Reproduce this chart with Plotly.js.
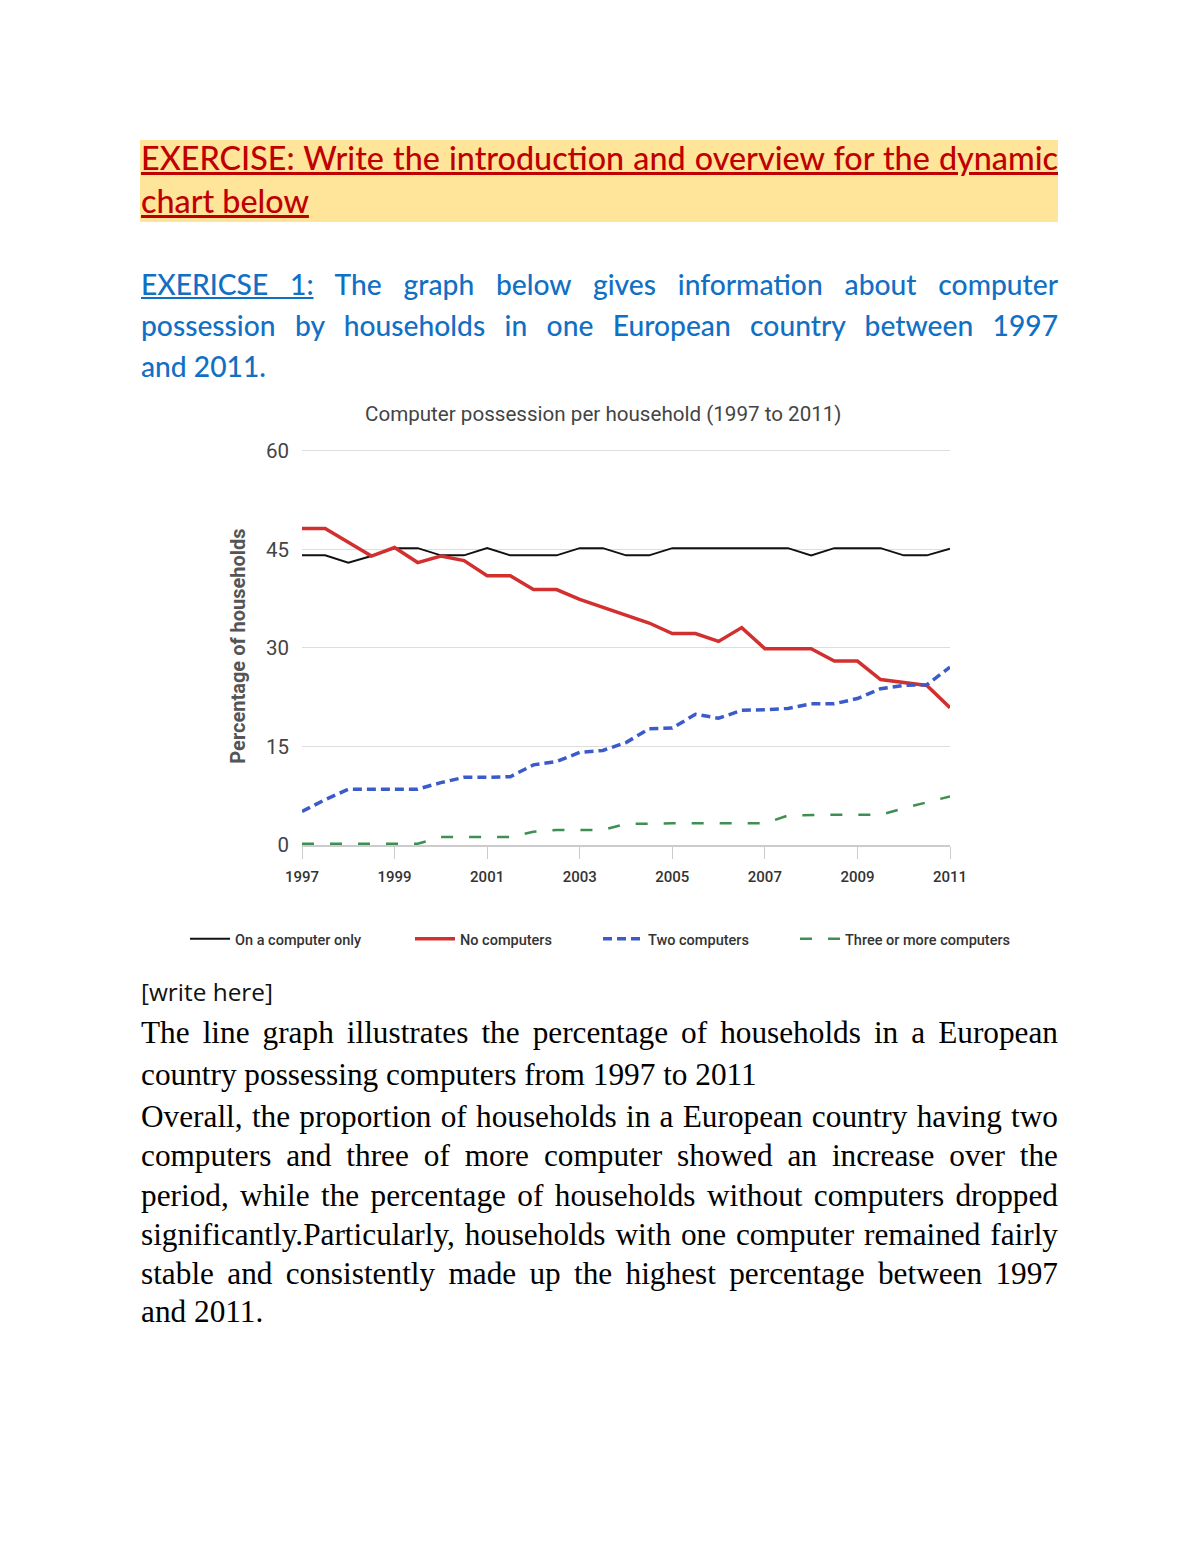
<!DOCTYPE html>
<html>
<head>
<meta charset="utf-8">
<script src="https://cdn.plot.ly/plotly-3.0.1.min.js"></script>
<style>
  html, body { margin: 0; padding: 0; background: #fff; }
  #page { position: relative; width: 1200px; height: 1553px; overflow: hidden; background: #fff; }
  .ln { position: absolute; left: 141px; white-space: nowrap; }
  #hl { position: absolute; left: 140px; top: 140px; width: 918px; height: 82px; background: #FFE599; }
  #chart { position: absolute; left: 170px; top: 395px; width: 870px; height: 575px; }
</style>
</head>
<body>
<div id="page">
  <div id="hl"></div>
  <div id="chart"></div>
</div>
<script>
// ---------------- chart data ----------------
const years = [1997, 1997.5, 1998, 1998.5, 1999, 1999.5, 2000, 2000.5, 2001, 2001.5,
               2002, 2002.5, 2003, 2003.5, 2004, 2004.5, 2005, 2005.5, 2006, 2006.5,
               2007, 2007.5, 2008, 2008.5, 2009, 2009.5, 2010, 2010.5, 2011];

const oneComputer = [44.1, 44.1, 43.0, 44.0, 45.2, 45.2, 44.1, 44.1, 45.2, 44.1,
                     44.1, 44.1, 45.2, 45.2, 44.1, 44.1, 45.2, 45.2, 45.2, 45.2,
                     45.2, 45.2, 44.1, 45.2, 45.2, 45.2, 44.1, 44.1, 45.1];

const noComputers = [48.2, 48.2, 46.1, 44.0, 45.3, 43.0, 44.0, 43.3, 41.0, 41.0,
                     38.9, 38.9, 37.4, 36.2, 35.0, 33.8, 32.2, 32.2, 31.0, 33.1,
                     29.9, 29.9, 29.9, 28.0, 28.0, 25.2, 24.8, 24.3, 20.9];

const twoComputers = [5.1, 6.9, 8.5, 8.5, 8.5, 8.5, 9.5, 10.3, 10.3, 10.4,
                      12.2, 12.7, 14.1, 14.4, 15.6, 17.7, 17.8, 19.9, 19.3, 20.5,
                      20.6, 20.8, 21.5, 21.5, 22.3, 23.8, 24.3, 24.4, 27.1];

const threePlus = [0.2, 0.2, 0.2, 0.2, 0.2, 0.2, 1.2, 1.2, 1.2, 1.2,
                   2.0, 2.3, 2.3, 2.3, 3.2, 3.3, 3.3, 3.3, 3.3, 3.3,
                   3.3, 4.5, 4.6, 4.6, 4.6, 4.6, 5.6, 6.5, 7.4];

const seriesNames = ['On a computer only', 'No computers', 'Two computers', 'Three or more computers'];
const xTickVals = [1997, 1999, 2001, 2003, 2005, 2007, 2009, 2011];
const xTickText = ['1997', '1999', '2001', '2003', '2005', '2007', '2009', '2011'];
const yTickVals = [0, 15, 30, 45, 60];
const yTickText = ['0', '15', '30', '45', '60'];

const chartTitle = 'Computer possession per household (1997 to 2011)';
const yTitle = 'Percentage of households';

// ---------------- document text ----------------
const page = document.getElementById('page');
const FULLW = 917;

const headerLines = [
  { html: 'EXERCISE: Write the introduction and overview for the dynamic', base: 170, justify: true },
  { html: 'chart below', base: 213, justify: false, ref: 168 }
];
const blueLines = [
  { html: '<span style="text-decoration:underline">EXERICSE 1:</span> The graph below gives information about computer', base: 295, justify: true },
  { html: 'possession by households in one European country between 1997', base: 336, justify: true },
  { html: 'and 2011.', base: 377, justify: false, ref: 125 }
];
const writeLines = [
  { html: '[write here]', base: 1001, justify: false, ref: 132 }
];
const serifLines = [
  { html: 'The line graph illustrates the percentage of households in a European', base: 1043, justify: true },
  { html: 'country possessing computers from 1997 to 2011', base: 1085, justify: false, ref: 616 },
  { html: 'Overall, the proportion of households in a European country having two', base: 1127, justify: true },
  { html: 'computers and three of more computer showed an increase over the', base: 1166, justify: true },
  { html: 'period, while the percentage of households without computers dropped', base: 1206, justify: true },
  { html: 'significantly.Particularly, households with one computer remained fairly', base: 1245, justify: true },
  { html: 'stable and consistently made up the highest percentage between 1997', base: 1284, justify: true },
  { html: 'and 2011.', base: 1322, justify: false, ref: 120 }
];

function makeLine(html, style) {
  const d = document.createElement('div');
  d.className = 'ln';
  Object.assign(d.style, style);
  d.innerHTML = html;
  const m = document.createElement('span');
  m.style.cssText = 'display:inline-block;width:0;height:0;vertical-align:baseline';
  d.appendChild(m);
  page.appendChild(d);
  return { d, m };
}

function renderGroup(lines, style) {
  const refLine = lines.find(l => l.ref);
  const probe = makeLine(refLine.html, Object.assign({}, style, { fontSize: '100px' }));
  const w100 = probe.d.getBoundingClientRect().width;
  probe.d.remove();
  const size = 100 * refLine.ref / w100;
  lines.forEach(l => {
    const o = makeLine(l.html, Object.assign({}, style, { fontSize: size + 'px' }));
    if (l.justify) {
      const w = o.d.getBoundingClientRect().width;
      const nSpaces = (o.d.textContent.match(/ /g) || []).length;
      if (nSpaces > 0) o.d.style.wordSpacing = ((FULLW - w) / nSpaces) + 'px';
    }
    const baseOff = o.m.offsetTop;
    o.d.style.top = (l.base - baseOff) + 'px';
  });
}

renderGroup(headerLines, { fontFamily: 'Lato, sans-serif', fontWeight: '500', color: '#C00000', textDecoration: 'underline' });
renderGroup(blueLines, { fontFamily: 'Lato, sans-serif', fontWeight: '500', color: '#1170C4' });
renderGroup(writeLines, { fontFamily: '"Open Sans", sans-serif', fontWeight: '400', color: '#111' });
renderGroup(serifLines, { fontFamily: '"Liberation Serif", "Times New Roman", serif', fontWeight: '400', color: '#000' });

// ---------------- chart ----------------
const traces = [
  { x: years, y: oneComputer, name: seriesNames[0], type: 'scatter', mode: 'lines', legend: 'legend',
    line: { color: '#111111', width: 2 } },
  { x: years, y: noComputers, name: seriesNames[1], type: 'scatter', mode: 'lines', legend: 'legend2',
    line: { color: '#D2302F', width: 3.5 } },
  { x: years, y: twoComputers, name: seriesNames[2], type: 'scatter', mode: 'lines', legend: 'legend3',
    line: { color: '#3B5BCB', width: 3.5, dash: '9px,5px' } },
  { x: years, y: threePlus, name: seriesNames[3], type: 'scatter', mode: 'lines', legend: 'legend4',
    line: { color: '#3F8E52', width: 2.5, dash: '12px,16px' } }
];

const PLOT_L = 302, PLOT_W = 648;
function legendAt(pageX) {
  return {
    orientation: 'h', xref: 'paper', x: (pageX - PLOT_L - 5) / PLOT_W, xanchor: 'left',
    yref: 'paper', y: -0.236, yanchor: 'middle', itemwidth: 40,
    font: { size: 14.5, color: '#333', family: 'Roboto, sans-serif', weight: 500 },
    bgcolor: 'rgba(0,0,0,0)'
  };
}

const layout = {
  width: 870, height: 575,
  margin: { l: 132, r: 90, t: 52, b: 125 },
  paper_bgcolor: 'rgba(0,0,0,0)', plot_bgcolor: 'rgba(0,0,0,0)',
  font: { family: 'Roboto, sans-serif', color: '#444' },
  showlegend: true,
  title: { text: chartTitle, font: { size: 20.6, color: '#444', family: 'Roboto, sans-serif' },
           xref: 'container', x: 0.498, xanchor: 'center', yref: 'container', y: 1 - 19 / 575, yanchor: 'middle' },
  xaxis: {
    range: [1997, 2011], tickmode: 'array', tickvals: xTickVals, ticktext: xTickText,
    ticks: 'outside', ticklen: 12, tickcolor: '#cccccc', tickwidth: 1,
    showgrid: false, zeroline: false, showline: true, linecolor: '#cccccc', linewidth: 1.5,
    tickfont: { size: 15, color: '#333', family: 'Roboto, sans-serif', weight: 500 },
    ticklabelstandoff: 5, fixedrange: true
  },
  yaxis: {
    range: [0, 60.6], tickmode: 'array', tickvals: yTickVals, ticktext: yTickText,
    showgrid: true, gridcolor: '#dddddd', gridwidth: 1, zeroline: false, showline: false, ticks: '',
    tickfont: { size: 20.5, color: '#444', family: 'Roboto, sans-serif' },
    ticklabelstandoff: 12, fixedrange: true,
    title: { text: yTitle, font: { size: 20, color: '#555', family: 'Roboto, sans-serif', weight: 'bold' }, standoff: 14 }
  },
  legend: legendAt(190),
  legend2: legendAt(415),
  legend3: legendAt(603),
  legend4: legendAt(800)
};

Plotly.newPlot('chart', traces, layout, { displayModeBar: false, staticPlot: true });
</script>
</body>
</html>
